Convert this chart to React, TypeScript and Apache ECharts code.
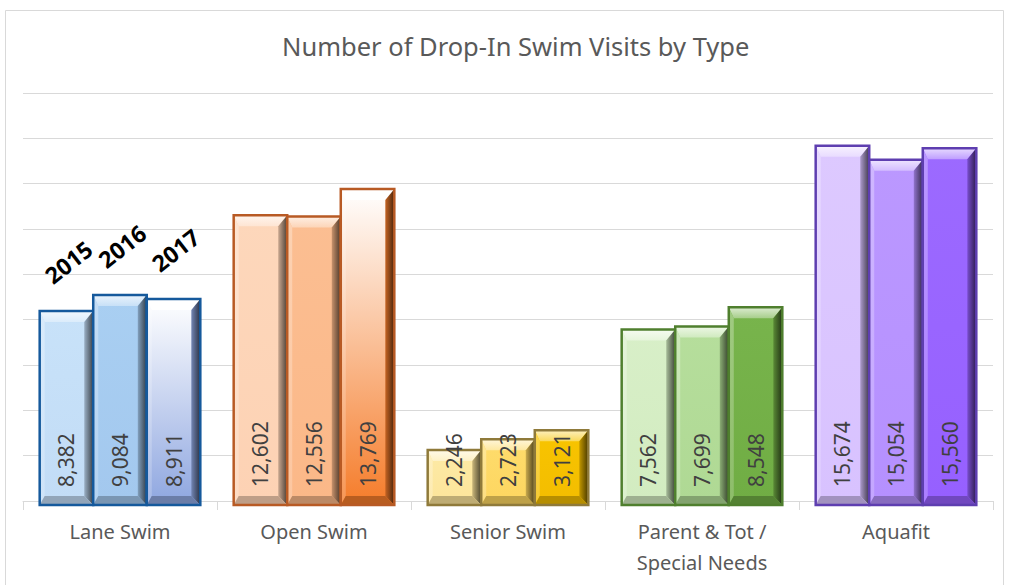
import React, { useEffect, useRef } from "react";
import * as echarts from "echarts";

const categories = ["Lane Swim", "Open Swim", "Senior Swim", "Parent & Tot /\nSpecial Needs", "Aquafit"];
const years = ["2015", "2016", "2017"];
const values2015 = [8382, 12602, 2246, 7562, 15674];
const values2016 = [9084, 12556, 2723, 7699, 15054];
const values2017 = [8911, 13769, 3121, 8548, 15560];
const yTicks = { min: 0, max: 18000, interval: 2000 };

// [top colour, bottom colour] of each bar face, per category, per year
const faceColors: string[][][] = [
  [["#c8e2f9", "#c2dcf6"], ["#a9cff2", "#a3c8ee"], ["#ffffff", "#8ea6e0"]],
  [["#fdd7bb", "#fdd2b4"], ["#fbbe92", "#fbb888"], ["#ffffff", "#f57c2a"]],
  [["#fdeaa6", "#fde59a"], ["#fedc6c", "#fdd660"], ["#f8c400", "#f3bd00"]],
  [["#d8efc8", "#d2ecc0"], ["#b6de9c", "#afd994"], ["#78b44c", "#70ad44"]],
  [["#ddc9ff", "#d8c2ff"], ["#bb98ff", "#b590ff"], ["#9c6aff", "#9660ff"]],
];
const borderColors = ["#15599c", "#b85a24", "#8f7a3a", "#4f7f2e", "#5e3eb0"];

function hexToRgb(h: string) {
  const n = parseInt(h.slice(1), 16);
  return [(n >> 16) & 255, (n >> 8) & 255, n & 255];
}
function mix(a: string, b: string, t: number) {
  const A = hexToRgb(a), B = hexToRgb(b);
  const c = A.map((v, i) => Math.round(v + (B[i] - v) * t));
  return "rgb(" + c.join(",") + ")";
}

const seriesValues = [values2015, values2016, values2017];

function makeRender(si: number) {
  return (params: any, api: any) => {
    const ci = api.value(0);
    const v = api.value(1);
    const p = api.coord([ci, v]);
    const b = api.coord([ci, 0]);
    const band = api.size([1, 0])[0];
    const bw = band * 0.276;
    const x0 = p[0] + (si - 1) * bw - bw / 2;
    const x1 = x0 + bw;
    const y0 = p[1];
    const y1 = b[1] + 4;
    const cx = (x0 + x1) / 2;
    const [ft, fb] = faceColors[ci][si];
    const border = borderColors[ci];
    const bt = 11, bb = 9, bl = 5, br = 9;
    const children: any[] = [
      {
        type: "rect",
        shape: { x: x0, y: y0, width: bw, height: y1 - y0 },
        style: {
          fill: new echarts.graphic.LinearGradient(0, 0, 0, 1, [
            { offset: 0, color: ft },
            { offset: 1, color: fb },
          ]),
        },
      },
      {
        type: "polygon",
        shape: { points: [[x0, y0], [x1, y0], [x1 - br, y0 + bt], [x0 + bl, y0 + bt]] },
        style: {
          fill: new echarts.graphic.LinearGradient(0, 0, 0, 1, [
            { offset: 0, color: mix(ft, "#ffffff", 0.75) },
            { offset: 1, color: mix(ft, "#ffffff", 0.35) },
          ]),
        },
      },
      {
        type: "polygon",
        shape: { points: [[x0, y0], [x0 + bl, y0 + bt], [x0 + bl, y1 - bb], [x0, y1]] },
        style: {
          fill: new echarts.graphic.LinearGradient(0, 0, 0, 1, [
            { offset: 0, color: mix(ft, "#ffffff", 0.3) },
            { offset: 1, color: mix(fb, "#ffffff", 0.2) },
          ]),
        },
      },
      {
        type: "polygon",
        shape: { points: [[x1, y0], [x1, y1], [x1 - br, y1 - bb], [x1 - br, y0 + bt]] },
        style: {
          fill: new echarts.graphic.LinearGradient(0, 0, 1, 0, [
            { offset: 0, color: mix(fb, "#000000", 0.2) },
            { offset: 1, color: mix(fb, "#000000", 0.7) },
          ]),
        },
      },
      {
        type: "polygon",
        shape: { points: [[x0, y1], [x1, y1], [x1 - br, y1 - bb], [x0 + bl, y1 - bb]] },
        style: { fill: mix(fb, "#000000", 0.25) },
      },
      {
        type: "rect",
        shape: { x: x0, y: y0, width: bw, height: y1 - y0 },
        style: { fill: "none", stroke: border, lineWidth: 2.5 },
      },
      {
        type: "text",
        x: cx,
        y: y1 - 18,
        rotation: Math.PI / 2,
        style: {
          text: Number(v).toLocaleString("en-US"),
          fill: "#404040",
          fontSize: 21,
          fontFamily: "Noto Sans",
          align: "left",
          verticalAlign: "middle",
        },
      },
    ];
    if (ci === 0) {
      children.push({
        type: "text",
        x: cx + 2,
        y: y0 - 49,
        rotation: (38 * Math.PI) / 180,
        style: {
          text: years[si],
          fill: "#000000",
          fontSize: 23,
          fontWeight: "bold",
          fontFamily: "Noto Sans",
          align: "center",
          verticalAlign: "middle",
        },
      });
    }
    return { type: "group", children };
  };
}

export default function App() {
  const ref = useRef<HTMLDivElement>(null);
  useEffect(() => {
    document.body.style.margin = "0";
    const chart = echarts.init(ref.current!, null, { renderer: "svg" });
    chart.setOption({
      animation: false,
      backgroundColor: "#ffffff",
      title: {
        text: "Number of Drop-In Swim Visits by Type",
        left: 282,
        top: 33,
        padding: 0,
        textStyle: { color: "#595959", fontSize: 25.5, fontWeight: "normal", fontFamily: "Noto Sans" },
      },
      graphic: [
        {
          type: "rect",
          z: -10,
          shape: { x: 5.5, y: 10.5, width: 998, height: 620 },
          style: { fill: "none", stroke: "#d9d9d9", lineWidth: 1 },
        },
      ],
      grid: { left: 23, right: 16, top: 93, bottom: 84 },
      xAxis: {
        type: "category",
        data: categories,
        axisLine: { lineStyle: { color: "#d9d9d9", width: 1 } },
        axisTick: { show: true, length: 9, lineStyle: { color: "#d9d9d9" } },
        axisLabel: { color: "#595959", fontSize: 20, fontFamily: "Noto Sans", margin: 15, lineHeight: 31 },
      },
      yAxis: {
        type: "value",
        min: yTicks.min,
        max: yTicks.max,
        interval: yTicks.interval,
        axisLabel: { show: false },
        axisLine: { show: false },
        axisTick: { show: false },
        splitLine: { lineStyle: { color: "#d9d9d9", width: 1 } },
      },
      series: years.map((y, si) => ({
        type: "custom",
        name: y,
        renderItem: makeRender(si),
        encode: { x: 0, y: 1 },
        clip: false,
        data: seriesValues[si].map((v, i) => [i, v]),
      })),
    });
    return () => chart.dispose();
  }, []);
  return <div ref={ref} style={{ width: 1009, height: 585 }} />;
}
